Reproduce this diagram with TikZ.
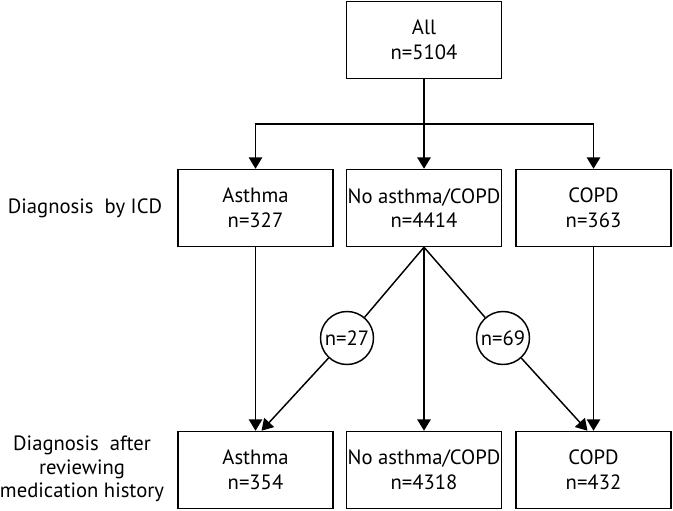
\documentclass[tikz,border=0pt]{standalone}
\usepackage{fontspec}
\setmainfont{PT Sans}
\usetikzlibrary{arrows.meta}

\begin{document}
\begin{tikzpicture}[x=0.75pt, y=0.75pt,
    box/.style={draw, line width=1.1pt, minimum width=116pt, minimum height=57.75pt,
      inner sep=0pt, align=center, font=\fontsize{15.5}{18.5}\selectfont},
    count/.style={draw, circle, line width=1.1pt, minimum size=39.75pt, inner sep=0pt,
      font=\fontsize{15.5}{18.5}\selectfont},
    rowlabel/.style={align=center, font=\fontsize{15.5}{17.5}\selectfont},
    link/.style={line width=1.1pt, -{Triangle[width=10pt,length=8.5pt]}}]
      \useasboundingbox (0,0) rectangle (673,510);

      % top
      \node[box] (all) at (424,470) {All\\n=5104};

      % diagnosis by ICD
      \node[box] (icdasthma) at (255.5,302) {Asthma\\n=327};
      \node[box] (icdnone) at (424,302) {No asthma/COPD\\n=4414};
      \node[box] (icdcopd) at (593.5,302) {COPD\\n=363};
      \node[rowlabel] (lblicd) at (85,302) {Diagnosis\ \ by ICD};

      % diagnosis after medication history
      \node[box] (medasthma) at (255.5,40) {Asthma\\n=354};
      \node[box] (mednone) at (424,40) {No asthma/COPD\\n=4318};
      \node[box] (medcopd) at (593.5,40) {COPD\\n=432};
      \node[rowlabel] (lblmed) at (82,41) {Diagnosis\ \ after\\reviewing\\medication history};

      % reclassified
      \node[count] (toasthma) at (347,172) {n=27};
      \node[count] (tocopd) at (503,172) {n=69};

      \coordinate (split) at (424,386);
      \draw[line width=1.1pt] (all.south) -- (split);
      \draw[link] (split) -- (icdnone.north);
      \draw[link] (split) -| (icdasthma.north);
      \draw[link] (split) -| (icdcopd.north);

      \draw[link] (icdasthma) -- (medasthma);
      \draw[link] (icdnone) -- (mednone);
      \draw[link] (icdcopd) -- (medcopd);

      \draw[line width=1.1pt] (icdnone.south) -- (toasthma);
      \draw[line width=1.1pt] (icdnone.south) -- (tocopd);
      \draw[link] (toasthma) -- ([xshift=4.5pt]medasthma.north);
      \draw[link] (tocopd) -- ([xshift=-4.5pt]medcopd.north);
\end{tikzpicture}
\end{document}
